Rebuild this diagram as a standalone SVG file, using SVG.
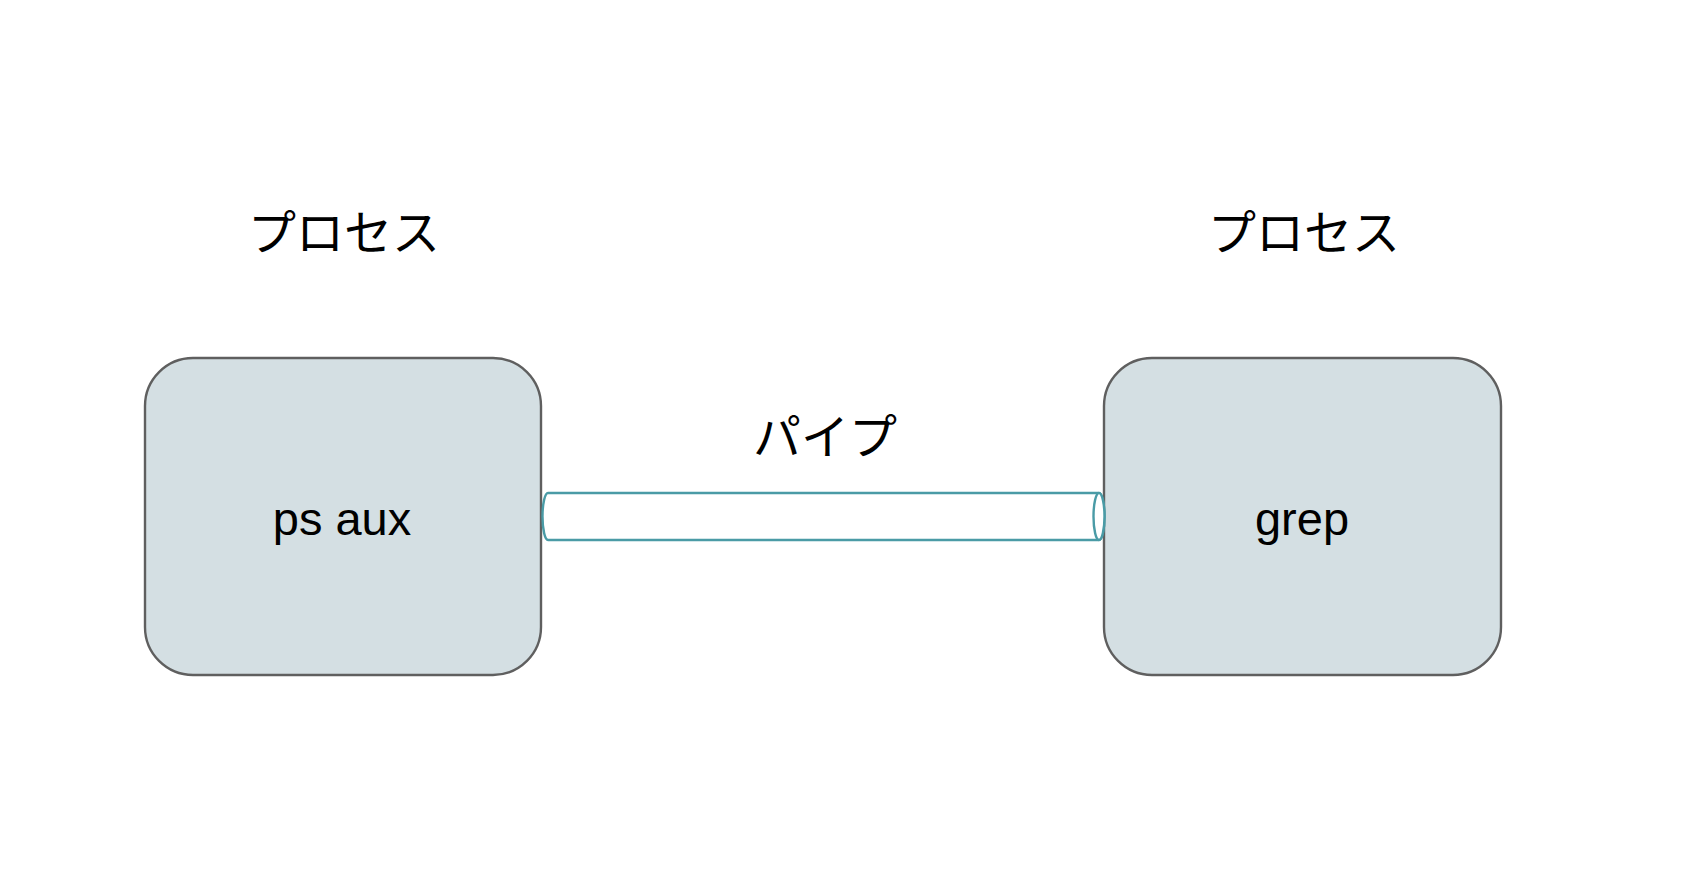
<svg xmlns="http://www.w3.org/2000/svg" width="1698" height="874" viewBox="0 0 1698 874">
<style>
.node{fill:#d4dfe3;stroke:#5f5f5f;stroke-width:2.4}
.lbl{font-family:"Liberation Sans",Arial,sans-serif;font-size:47px;fill:#000;text-anchor:middle}
.jp{font-family:"Noto Sans CJK JP","Noto Sans",sans-serif;font-size:48px;fill:#000;text-anchor:middle}
.pipe{fill:#fff;stroke:#4a9ba6;stroke-width:2.4}
</style>
<rect width="1698" height="874" fill="#fff"/>
<g id="title-left"><text class="jp" x="344" y="250">プロセス</text></g>
<g id="title-right"><text class="jp" x="1304" y="250">プロセス</text></g>
<g id="node-psaux">
<rect class="node" x="145" y="358" width="396" height="317" rx="48" ry="48"/>
<text class="lbl" x="342" y="535">ps aux</text>
</g>
<g id="node-grep">
<rect class="node" x="1104" y="358" width="397" height="317" rx="48" ry="48"/>
<text class="lbl" x="1302" y="535">grep</text>
</g>
<g id="connectors">
<path class="pipe" d="M548,493 H1099 A5.5,23.5 0 0 1 1099,540 H548 A5.5,23.5 0 0 1 548,493 Z"/>
<ellipse class="pipe" cx="1099" cy="516.5" rx="5.5" ry="23.5"/>
<text class="jp" x="825" y="454">パイプ</text>
</g>
</svg>
